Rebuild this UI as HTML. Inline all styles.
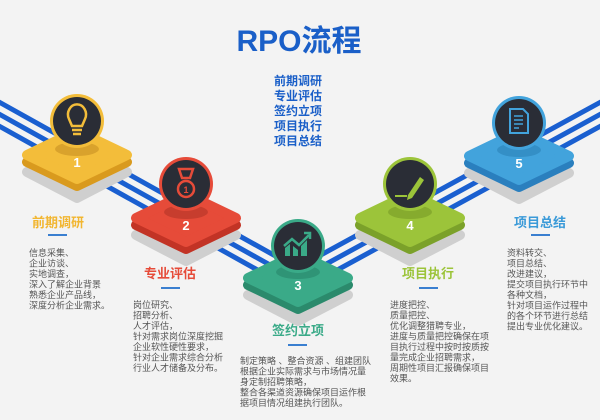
<!DOCTYPE html>
<html><head><meta charset="utf-8"><style>
html,body{margin:0;padding:0;background:#f3f3f3;}
svg{display:block;font-family:"Liberation Sans","Noto Sans CJK SC",sans-serif;}
.b{font-size:9px;fill:#555;}
.h{font-size:13px;font-weight:bold;text-anchor:middle;}
.n{font-size:13px;font-weight:bold;fill:#fff;text-anchor:middle;}
</style></head><body>
<svg width="600" height="420" viewBox="0 0 600 420">
<rect width="600" height="420" fill="#f3f3f3"/>
<text x="299" y="51" text-anchor="middle" font-size="30" font-weight="bold" fill="#1a5fc8">RPO流程</text>
<g font-size="12" font-weight="bold" fill="#1a5fc8" text-anchor="middle">
<text x="298" y="85">前期调研</text><text x="298" y="100">专业评估</text><text x="298" y="115">签约立项</text><text x="298" y="130">项目执行</text><text x="298" y="145">项目总结</text>
</g>
<g fill="none" stroke="#1a5fd0" stroke-width="5">
<polyline points="-10,97 297,268 610,97"/>
<polyline points="-10,109 297,280 610,109"/>
<polyline points="-10,121 297,292 610,121"/>
</g>
<!-- pad1 -->
<g transform="translate(77,155)">
<path d="M-50,8 L0,-18 L50,8 L0,34 Z" fill="#cfcfcf" stroke="#cfcfcf" stroke-width="10" stroke-linejoin="round" transform="translate(0,9)"/>
<path d="M-50,0 L0,-24 L50,0 L0,24 Z" fill="#d99a1e" stroke="#d99a1e" stroke-width="10" stroke-linejoin="round" transform="translate(0,7)"/>
<path d="M-50,0 L0,-24 L50,0 L0,24 Z" fill="#f3bd3a" stroke="#f3bd3a" stroke-width="10" stroke-linejoin="round"/>
<ellipse cx="0" cy="-6" rx="22" ry="7" fill="#d9a22c"/>
<circle cx="0" cy="-34" r="27" fill="#f3bd3a"/><circle cx="0" cy="-34" r="24" fill="#2a2d36"/>
<path d="M-8,-36 a9,10 0 1 1 16,0 l-3,7 h-10 z" fill="none" stroke="#f3bd3a" stroke-width="2.5"/>
<path d="M-5,-25 h10 M-4,-21 h8" stroke="#f3bd3a" stroke-width="2.5"/>
<text class="n" x="0" y="12">1</text>
</g>
<!-- pad2 -->
<g transform="translate(186,218)">
<path d="M-50,8 L0,-18 L50,8 L0,34 Z" fill="#cfcfcf" stroke="#cfcfcf" stroke-width="10" stroke-linejoin="round" transform="translate(0,9)"/>
<path d="M-50,0 L0,-24 L50,0 L0,24 Z" fill="#c23325" stroke="#c23325" stroke-width="10" stroke-linejoin="round" transform="translate(0,7)"/>
<path d="M-50,0 L0,-24 L50,0 L0,24 Z" fill="#e64b39" stroke="#e64b39" stroke-width="10" stroke-linejoin="round"/>
<ellipse cx="0" cy="-6" rx="22" ry="7" fill="#c73d2e"/>
<circle cx="0" cy="-34" r="27" fill="#e64b39"/><circle cx="0" cy="-34" r="24" fill="#2a2d36"/>
<path d="M-7,-49 h14 l-3,9 h-8 z" fill="none" stroke="#e64b39" stroke-width="2.5"/>
<circle cx="0" cy="-29" r="8" fill="none" stroke="#e64b39" stroke-width="2.5"/>
<text x="0" y="-25" font-size="9" fill="#e64b39" text-anchor="middle" font-weight="bold">1</text>
<text class="n" x="0" y="12">2</text>
</g>
<!-- pad3 -->
<g transform="translate(298,278)">
<path d="M-50,8 L0,-18 L50,8 L0,34 Z" fill="#cfcfcf" stroke="#cfcfcf" stroke-width="10" stroke-linejoin="round" transform="translate(0,9)"/>
<path d="M-50,0 L0,-24 L50,0 L0,24 Z" fill="#2b8a6c" stroke="#2b8a6c" stroke-width="10" stroke-linejoin="round" transform="translate(0,7)"/>
<path d="M-50,0 L0,-24 L50,0 L0,24 Z" fill="#3aaa88" stroke="#3aaa88" stroke-width="10" stroke-linejoin="round"/>
<ellipse cx="0" cy="-6" rx="22" ry="7" fill="#2f9476"/>
<circle cx="0" cy="-32" r="27" fill="#3aaa88"/><circle cx="0" cy="-32" r="24" fill="#2a2d36"/>
<path d="M-13,-22 v-8 l5,-4 v12 z M-5,-22 v-10 l5,4 v6 z M3,-22 v-10 l6,-6 v16 z" fill="#3aaa88"/>
<path d="M-14,-32 l8,-7 l7,6 l10,-10" fill="none" stroke="#3aaa88" stroke-width="2.5"/>
<path d="M6,-45 h6 v6" fill="none" stroke="#3aaa88" stroke-width="2.5"/>
<text class="n" x="0" y="12">3</text>
</g>
<!-- pad4 -->
<g transform="translate(410,218)">
<path d="M-50,8 L0,-18 L50,8 L0,34 Z" fill="#cfcfcf" stroke="#cfcfcf" stroke-width="10" stroke-linejoin="round" transform="translate(0,9)"/>
<path d="M-50,0 L0,-24 L50,0 L0,24 Z" fill="#7ba12a" stroke="#7ba12a" stroke-width="10" stroke-linejoin="round" transform="translate(0,7)"/>
<path d="M-50,0 L0,-24 L50,0 L0,24 Z" fill="#9cc43a" stroke="#9cc43a" stroke-width="10" stroke-linejoin="round"/>
<ellipse cx="0" cy="-6" rx="22" ry="7" fill="#86ab2e"/>
<circle cx="0" cy="-34" r="27" fill="#9cc43a"/><circle cx="0" cy="-34" r="24" fill="#2a2d36"/>
<path d="M-2,-23 l12,-18 l4,3 l-12,18 l-5,2 z" fill="#9cc43a"/>
<path d="M-15,-22 h12" stroke="#9cc43a" stroke-width="2"/>
<text class="n" x="0" y="12">4</text>
</g>
<!-- pad5 -->
<g transform="translate(519,156)">
<path d="M-50,8 L0,-18 L50,8 L0,34 Z" fill="#cfcfcf" stroke="#cfcfcf" stroke-width="10" stroke-linejoin="round" transform="translate(0,9)"/>
<path d="M-50,0 L0,-24 L50,0 L0,24 Z" fill="#2a7fbe" stroke="#2a7fbe" stroke-width="10" stroke-linejoin="round" transform="translate(0,7)"/>
<path d="M-50,0 L0,-24 L50,0 L0,24 Z" fill="#42a3dc" stroke="#42a3dc" stroke-width="10" stroke-linejoin="round"/>
<ellipse cx="0" cy="-6" rx="22" ry="7" fill="#348fc6"/>
<circle cx="0" cy="-33" r="27" fill="#42a3dc"/><circle cx="0" cy="-33" r="24" fill="#2a2d36"/>
<path d="M-9,-47 h13 l5,5 v19 h-18 z" fill="none" stroke="#42a3dc" stroke-width="2"/>
<path d="M-5,-40 h9 M-5,-36 h9 M-5,-32 h9 M-5,-28 h5" stroke="#42a3dc" stroke-width="1.5"/>
<text class="n" x="0" y="12">5</text>
</g>
<text class="h" x="58" y="227" fill="#f2b630">前期调研</text>
<rect x="48" y="234" width="19" height="2" fill="#3a7fd0"/>
<text class="h" x="170" y="278" fill="#e64b39">专业评估</text>
<rect x="161" y="287" width="19" height="2" fill="#3a7fd0"/>
<text class="h" x="298" y="335" fill="#3aaa88">签约立项</text>
<rect x="288" y="344" width="19" height="2" fill="#3a7fd0"/>
<text class="h" x="428" y="278" fill="#9cc43a">项目执行</text>
<rect x="419" y="287" width="19" height="2" fill="#3a7fd0"/>
<text class="h" x="540" y="227" fill="#3a9ad8">项目总结</text>
<rect x="531" y="234" width="19" height="2" fill="#3a7fd0"/>
<g class="b">
<text x="29" y="256">信息采集、</text><text x="29" y="266.5">企业访谈、</text><text x="29" y="277">实地调查，</text><text x="29" y="287.5">深入了解企业背景</text><text x="29" y="298">熟悉企业产品线，</text><text x="29" y="308.5">深度分析企业需求。</text>
<text x="133" y="308">岗位研究、</text><text x="133" y="318.5">招聘分析、</text><text x="133" y="329">人才评估，</text><text x="133" y="339.5">针对需求岗位深度挖掘</text><text x="133" y="350">企业软性硬性要求，</text><text x="133" y="360.5">针对企业需求综合分析</text><text x="133" y="371">行业人才储备及分布。</text>
<text x="240" y="364">制定策略 、整合资源 、组建团队</text><text x="240" y="374.5">根据企业实际需求与市场情况量</text><text x="240" y="385">身定制招聘策略，</text><text x="240" y="395.5">整合各渠道资源确保项目运作根</text><text x="240" y="406">据项目情况组建执行团队。</text>
<text x="390" y="308">进度把控、</text><text x="390" y="318.5">质量把控、</text><text x="390" y="329">优化调整猎聘专业，</text><text x="390" y="339.5">进度与质量把控确保在项</text><text x="390" y="350">目执行过程中按时按质按</text><text x="390" y="360.5">量完成企业招聘需求，</text><text x="390" y="371">周期性项目汇报确保项目</text><text x="390" y="381.5">效果。</text>
<text x="507" y="256">资料转交、</text><text x="507" y="266.5">项目总结、</text><text x="507" y="277">改进建议，</text><text x="507" y="287.5">提交项目执行环节中</text><text x="507" y="298">各种文档，</text><text x="507" y="308.5">针对项目运作过程中</text><text x="507" y="319">的各个环节进行总结</text><text x="507" y="329.5">提出专业优化建议。</text>
</g>
</svg>
</body></html>
